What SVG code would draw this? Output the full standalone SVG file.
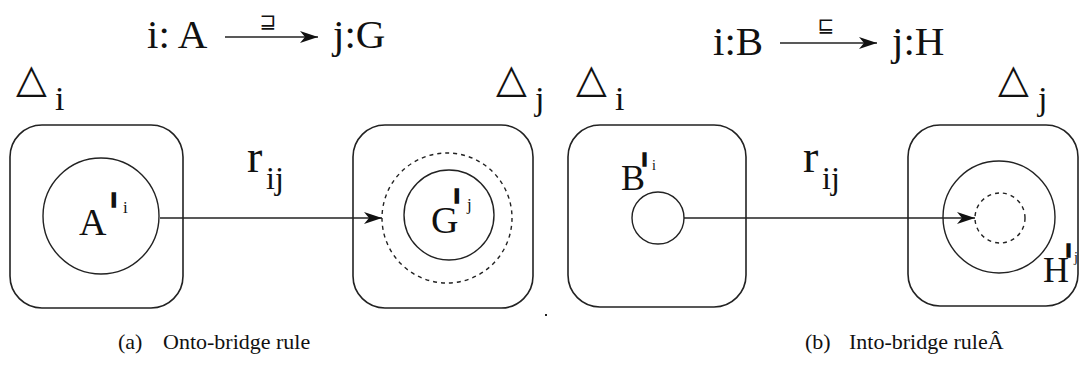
<svg xmlns="http://www.w3.org/2000/svg" width="1083" height="366" viewBox="0 0 1083 366">
<style>
.t{font-family:"Liberation Serif","Times New Roman",serif;fill:#111}
.sym{font-family:"DejaVu Sans",sans-serif;fill:#111}
.bar{font-family:"Liberation Sans",Arial,sans-serif;font-weight:bold;fill:#111;stroke:#111;stroke-width:1.6}
.box{fill:none;stroke:#222;stroke-width:1.6}
.c{fill:none;stroke:#222;stroke-width:1.4}
.d{fill:none;stroke:#222;stroke-width:1.4;stroke-dasharray:4 4}
.ln{stroke:#222;stroke-width:1.5;fill:none}
</style>
<defs>
<marker id="ah" markerUnits="userSpaceOnUse" markerWidth="20" markerHeight="14" refX="18" refY="6" orient="auto">
<path d="M0,0 L18,6 L0,12 L5,6 z" fill="#111"/>
</marker>
</defs>
<g id="title-a">
<text class="t" x="147" y="48" font-size="41">i: A</text>
<text class="sym" x="268" y="28" font-size="20" text-anchor="middle">⊒</text>
<text class="t" x="333" y="48" font-size="41">j:G</text>
</g>
<g id="title-b">
<text class="t" x="713" y="55" font-size="41">i:B</text>
<text class="sym" x="826" y="32" font-size="20" text-anchor="middle">⊑</text>
<text class="t" x="892" y="55" font-size="41">j:H</text>
</g>
<g id="delta-labels">
<text class="sym" x="16" y="92" font-size="40">△</text><text class="t" x="55" y="110" font-size="34">i</text>
<text class="sym" x="496" y="92" font-size="40">△</text><text class="t" x="535" y="110" font-size="34">j</text>
<text class="sym" x="576" y="92" font-size="40">△</text><text class="t" x="615" y="110" font-size="34">i</text>
<text class="sym" x="998" y="92" font-size="40">△</text><text class="t" x="1038" y="110" font-size="34">j</text>
</g>
<g id="node-delta-i-a">
<rect class="box" x="10" y="125" width="173" height="183" rx="32"/>
<circle class="c" cx="101" cy="216" r="58"/>
<text class="t" x="79" y="235" font-size="38">A</text>
<text class="bar" x="111" y="207" font-size="20">I</text>
<text class="t" x="123" y="213" font-size="17">i</text>
</g>
<g id="node-delta-j-a">
<rect class="box" x="353" y="125" width="180" height="183" rx="32"/>
<circle class="d" cx="447" cy="218" r="65"/>
<circle class="c" cx="449" cy="215" r="45"/>
<text class="t" x="431" y="233" font-size="38">G</text>
<text class="bar" x="454" y="203" font-size="20">I</text>
<text class="t" x="467" y="210" font-size="17">j</text>
</g>
<g id="node-delta-i-b">
<rect class="box" x="568" y="125" width="178" height="182" rx="32"/>
<circle class="c" cx="658" cy="218" r="26"/>
<text class="t" x="621" y="190" font-size="36">B</text>
<text class="bar" x="642" y="166" font-size="18">I</text>
<text class="t" x="652" y="170" font-size="14">i</text>
</g>
<g id="node-delta-j-b">
<rect class="box" x="908" y="125" width="170" height="181" rx="32"/>
<circle class="c" cx="999" cy="217" r="56"/>
<circle class="d" cx="1000" cy="218" r="25"/>
<text class="t" x="1043" y="282" font-size="36">H</text>
<text class="bar" x="1066" y="257" font-size="18">I</text>
<text class="t" x="1074" y="262" font-size="14">j</text>
</g>
<g id="connectors">
<line class="ln" x1="225" y1="37" x2="318" y2="37" marker-end="url(#ah)"/>
<line class="ln" x1="780" y1="43" x2="877" y2="43" marker-end="url(#ah)"/>
<line class="ln" x1="160" y1="218" x2="382" y2="218" marker-end="url(#ah)"/>
<line class="ln" x1="684" y1="218" x2="975" y2="218" marker-end="url(#ah)"/>
<text class="t" x="247" y="172" font-size="46">r</text>
<text class="t" x="266" y="189" font-size="32">ij</text>
<text class="t" x="803" y="172" font-size="46">r</text>
<text class="t" x="822" y="189" font-size="32">ij</text>
</g>
<g id="captions">
<text class="t" x="118" y="349" font-size="22">(a)</text>
<text class="t" x="163" y="349" font-size="22">Onto-bridge rule</text>
<text class="t" x="805" y="349" font-size="22">(b)</text>
<text class="t" x="849" y="349" font-size="22">Into-bridge ruleÂ</text>
<rect x="545" y="314" width="2" height="2" fill="#222"/>
</g>
</svg>
